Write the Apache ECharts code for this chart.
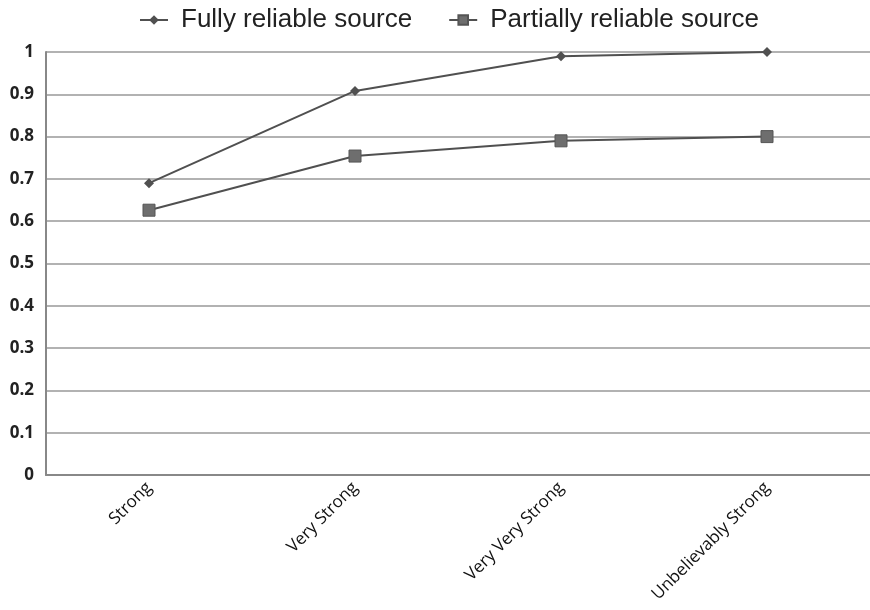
<!DOCTYPE html>
<html><head><meta charset="utf-8">
<script src="https://cdn.jsdelivr.net/npm/echarts@6/dist/echarts.min.js"></script>
<style>html,body{margin:0;padding:0;background:#fff}#c{width:870px;height:610px}</style>
</head><body><div id="c"></div>
<script>
const categories = ['Strong', 'Very Strong', 'Very Very Strong', 'Unbelievably Strong'];
const fullyReliable = [0.69, 0.908, 0.99, 1.0];
const partiallyReliable = [0.626, 0.754, 0.79, 0.80];
const seriesNames = ['Fully reliable source', 'Partially reliable source'];

const chart = echarts.init(document.getElementById('c'));
chart.setOption({
  animation: false,
  legend: {
    top: 2, left: 134, itemGap: 36, itemWidth: 28, itemHeight: 12,
    textStyle: { fontFamily: 'Liberation Sans, sans-serif', fontSize: 26, color: '#222', padding: [0, 0, 0, 8] },
    data: seriesNames
  },
  grid: { left: 46, right: 0, top: 52, bottom: 135 },
  xAxis: {
    type: 'category', data: categories, boundaryGap: true,
    axisLine: { lineStyle: { color: '#888', width: 2 } },
    axisTick: { show: false },
    axisLabel: { rotate: 45, fontFamily: 'Open Sans, sans-serif', fontSize: 17, color: '#111', margin: 10 }
  },
  yAxis: {
    type: 'value', min: 0, max: 1, interval: 0.1,
    axisLine: { show: true, lineStyle: { color: '#888', width: 2 } },
    axisTick: { show: false },
    splitLine: { lineStyle: { color: '#999', width: 1.5 } },
    axisLabel: { fontFamily: 'Open Sans, sans-serif', fontWeight: 'bold', fontSize: 17, color: '#222', margin: 12,
      formatter: v => String(Math.round(v * 10) / 10) }
  },
  series: [
    { name: seriesNames[0], type: 'line', data: fullyReliable, symbol: 'diamond', symbolSize: 10,
      lineStyle: { color: '#505050', width: 2 }, itemStyle: { color: '#505050' } },
    { name: seriesNames[1], type: 'line', data: partiallyReliable, symbol: 'rect', symbolSize: 12,
      lineStyle: { color: '#505050', width: 2 }, itemStyle: { color: '#6e6e6e', borderColor: '#555', borderWidth: 1 } }
  ]
});
</script></body></html>
